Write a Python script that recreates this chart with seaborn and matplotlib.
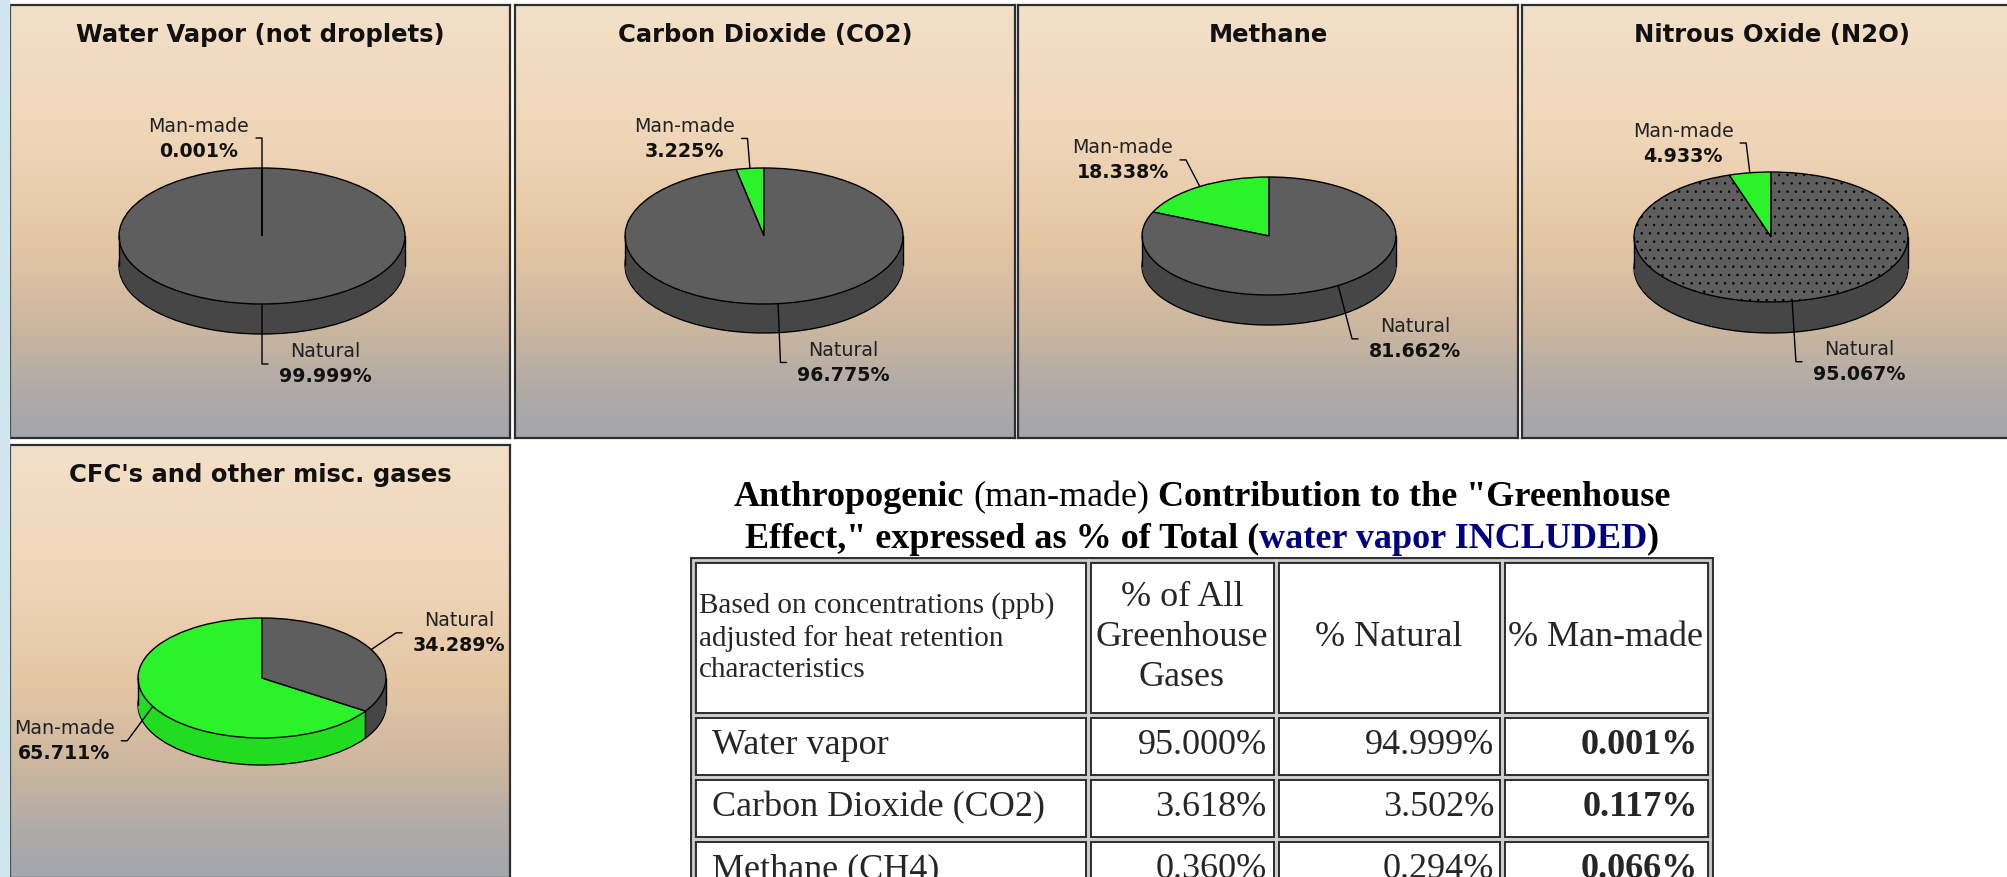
import numpy as np
import matplotlib
matplotlib.use("Agg")
import matplotlib.pyplot as plt
from matplotlib.colors import LinearSegmentedColormap
from matplotlib.patches import Rectangle
import seaborn as sns

# ── DATA ──────────────────────────────────────────────────────────────────────
GASES = ["Water Vapor (not droplets)", "Carbon Dioxide (CO2)", "Methane",
         "Nitrous Oxide (N2O)", "CFC's and other misc. gases"]
MAN_MADE = [0.001, 3.225, 18.338, 4.933, 65.711]
NATURAL = [99.999, 96.775, 81.662, 95.067, 34.289]

TABLE_HEAD = ["Based on concentrations (ppb)\nadjusted for heat retention\ncharacteristics",
              "% of All\nGreenhouse\nGases", "% Natural", "% Man-made"]
TABLE_ROWS = ["Water vapor", "Carbon Dioxide (CO2)", "Methane (CH4)"]
PCT_ALL = [95.000, 3.618, 0.360]
PCT_NATURAL = [94.999, 3.502, 0.294]
PCT_MAN = [0.001, 0.117, 0.066]

# ── LAYOUT / STYLE ────────────────────────────────────────────────────────────
W, H = 2008, 877
PW, PH = 500, 433
# panel left, top, pie half-width, half-height, depth, centre x/y inside panel (px)
PANELS = [
    (10, 5, 143, 68, 30, 252, 231),
    (515, 5, 139, 68, 29, 249, 231),
    (1018, 5, 127, 59, 30, 251, 231),
    (1522, 5, 137, 65, 31, 249, 232),
    (10, 445, 124, 60, 27, 252, 233),
]
GREEN, GREEN_SIDE = "#2cf22c", "#22dc22"
GRAY, GRAY_SIDE = "#5e5e5e", "#464646"
NAVY = "#000080"
SERIF = "Liberation Serif"

sns.set_theme(style="white")
plt.rcParams["font.family"] = ["DejaVu Sans"]
plt.rcParams["hatch.linewidth"] = 0.5

BG = LinearSegmentedColormap.from_list("bg", [
    (0.0, "#f3e0c9"), (0.3, "#efd6b8"), (0.55, "#e4c6a4"),
    (0.75, "#cbb6a0"), (0.88, "#b2aba6"), (1.0, "#a3a6ad")])

fig = plt.figure(figsize=(W / 100, H / 100), dpi=100)
fig.patch.set_facecolor("white")
fig.patches.append(Rectangle((0, 0), 9 / W, 1, transform=fig.transFigure,
                             color="#cfe6ee", zorder=0))


def px_axes(left, top, w, h):
    return fig.add_axes([left / W, 1 - (top + h) / H, w / W, h / H])


for i, (name, mm, nat) in enumerate(zip(GASES, MAN_MADE, NATURAL)):
    left, top, rx, ry, depth, cx, cy = PANELS[i]
    ax = px_axes(left, top, PW, PH)
    x0, x1 = -cx / rx, (PW - cx) / rx
    y0, y1 = -(PH - cy) / ry, cy / ry
    ax.imshow(np.linspace(0, 1, 256)[:, None], extent=(x0, x1, y0, y1),
              aspect="auto", cmap=BG, zorder=0)

    vals = [mm, nat]
    d = depth / ry
    # side of the 3D disc: stacked pies
    for k, off in enumerate(np.linspace(d, 0, depth + 1)):
        edge = dict(edgecolor="black", linewidth=1) if k == 0 else dict(edgecolor="none", linewidth=0)
        ax.pie(vals, colors=[GREEN_SIDE, GRAY_SIDE], startangle=90, counterclock=True,
               center=(0, -off), wedgeprops=edge)
    wedges, _ = ax.pie(vals, colors=[GREEN, GRAY], startangle=90, counterclock=True,
                       wedgeprops=dict(edgecolor="black", linewidth=1))
    if i == 3:
        wedges[1].set_hatch("..")

    for sx in (-1, 1):
        ax.plot([sx, sx], [0, -d], color="black", lw=1)
    for th in (90, 90 + 360 * mm / 100):
        t = np.radians(th)
        if np.sin(t) < -0.05:
            ax.plot([np.cos(t)] * 2, [np.sin(t), np.sin(t) - d], color="black", lw=1)

    mids = [90 + 180 * mm / 100, 90 + 360 * mm / 100 + 180 * nat / 100]
    for lab, v, th in zip(["Man-made", "Natural"], vals, mids):
        t = np.radians(th)
        c, s = np.cos(t), np.sin(t)
        rpx, rpy = c * rx, s * ry
        L = 30 + depth * max(0, -s)
        dx, dy = (0.8 if s > 0 else 0.4) * c, s
        n = np.hypot(dx, dy)
        ex, ey = rpx + L * dx / n, rpy + L * dy / n
        sgn = 1 if c >= 0 else -1
        ax.plot(np.array([rpx, ex, ex + 6 * sgn]) / rx, np.array([rpy, ey, ey]) / ry,
                color="black", lw=1)
        lx = ex + 63 * sgn
        ax.text(lx / rx, (ey + 12) / ry, lab, ha="center", va="center",
                fontsize=13.7, color="#222222")
        ax.text(lx / rx, (ey - 13) / ry, f"{v:.3f}%", ha="center", va="center",
                fontsize=13.7, fontweight="bold", color="#111111")

    ax.text(0.5, 1 - 30 / PH, name, transform=ax.transAxes, ha="center", va="center",
            fontsize=17.5, fontweight="bold", color="#111111")
    ax.set_aspect("auto")
    ax.set_xlim(x0, x1)
    ax.set_ylim(y0, y1)
    ax.set_frame_on(True)
    ax.set_xticks([]); ax.set_yticks([])
    for sp in ax.spines.values():
        sp.set_visible(True); sp.set_color("#2e2e2e"); sp.set_linewidth(1.6)

# ── TABLE TITLE (mixed styles) ────────────────────────────────────────────────
renderer = fig.canvas.get_renderer()
TITLE_SIZE = 26


def rich_line(y_px, parts, xc_px=1202):
    texts, widths = [], []
    space = 0.25 * TITLE_SIZE * 100 / 72
    for s, weight, color, gap in parts:
        t = fig.text(0, 1 - y_px / H, s, fontsize=TITLE_SIZE, fontweight=weight,
                     color=color, family=SERIF, va="center", ha="left")
        texts.append((t, gap))
        widths.append(t.get_window_extent(renderer).width + (space if gap else 0))
    x = xc_px - sum(widths) / 2
    for (t, gap), w in zip(texts, widths):
        if gap:
            x += space
            w -= space
        t.set_x(x / W)
        x += w


rich_line(498, [("Anthropogenic", "bold", "black", False),
                ("(man-made)", "normal", "black", True),
                ('Contribution to the "Greenhouse', "bold", "black", True)])
rich_line(539, [('Effect," expressed as % of Total (', "bold", "black", False),
                ("water vapor INCLUDED", "bold", NAVY, False),
                (")", "bold", "black", False)])

# ── TABLE ─────────────────────────────────────────────────────────────────────
col_w = [395, 188, 226, 208]
row_h = [155, 62, 62, 62]
tax = px_axes(693, 560, sum(col_w), sum(row_h))
tax.set_xticks([]); tax.set_yticks([])
for sp in tax.spines.values():
    sp.set_visible(False)

cell_text = [TABLE_HEAD] + [[n, f"{a:.3f}%", f"{b:.3f}%", f"{m:.3f}%"]
                            for n, a, b, m in zip(TABLE_ROWS, PCT_ALL, PCT_NATURAL, PCT_MAN)]
tab = tax.table(cellText=cell_text, bbox=[0, 0, 1, 1], cellLoc="center")
tab.auto_set_font_size(False)
for (r, c), cell in tab.get_celld().items():
    cell.set_width(col_w[c])
    cell.set_height(row_h[r])
    cell.set_edgecolor("#2f2f2f")
    cell.set_linewidth(5)
    txt = cell.get_text()
    txt.set_family(SERIF)
    txt.set_fontsize(26)
    if r == 0:
        txt.set_linespacing(1.3)
        if c == 0:
            txt.set_fontsize(21)
            txt.set_linespacing(1.25)
            txt.set_ha("left")
            txt.set_multialignment("left")
            cell.PAD = 0.015
    else:
        if c == 0:
            txt.set_ha("left")
            cell.PAD = 0.048
        else:
            txt.set_ha("right")
            cell.PAD = [0, 0.05, 0.035, 0.06][c]
        if c == 3:
            txt.set_fontweight("bold")

# light gap between the double cell borders (html cellspacing look)
gap = tax.table(cellText=[[""] * 4 for _ in cell_text], bbox=[0, 0, 1, 1])
for (r, c), cell in gap.get_celld().items():
    cell.set_width(col_w[c])
    cell.set_height(row_h[r])
    cell.set_facecolor("none")
    cell.set_edgecolor("#cdcdcd")
    cell.set_linewidth(2)

fig.savefig("out.png", dpi=100)
